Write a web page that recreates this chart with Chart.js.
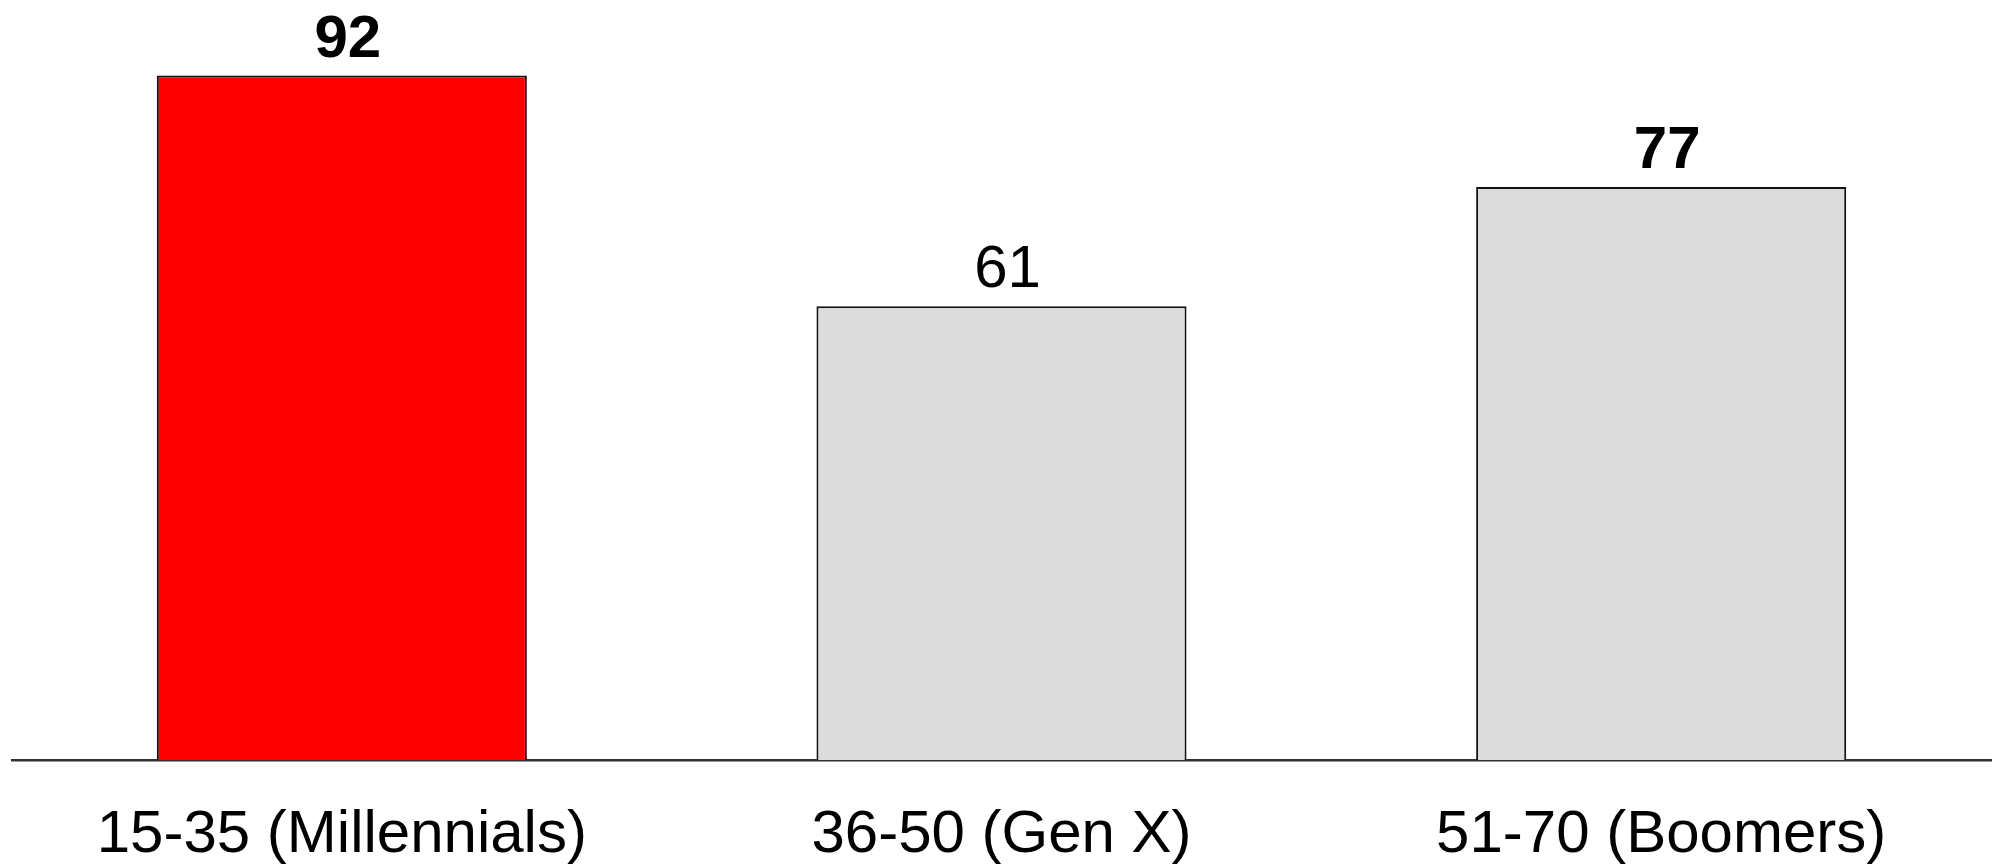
<!DOCTYPE html>
<html>
<head>
<meta charset="utf-8">
<script src="https://cdn.jsdelivr.net/npm/chart.js@4"></script>
<style>
  html, body { margin: 0; padding: 0; background: #fff; }
  #wrap { width: 1992px; height: 868px; }
</style>
</head>
<body>
<div id="wrap"><canvas id="myChart" width="1992" height="868"></canvas></div>
<script>
const categories = ['15-35 (Millennials)', '36-50 (Gen X)', '51-70 (Boomers)'];
const values = [92, 61, 77];

const barColors = ['#ff0000', '#dcdcdc', '#dcdcdc'];
const labelBold = [true, false, true];

// draws the number above each bar
const valueLabels = {
    id: 'valueLabels',
    afterDatasetsDraw(chart) {
        const ctx = chart.ctx;
        const meta = chart.getDatasetMeta(0);
        ctx.save();
        ctx.fillStyle = '#000';
        ctx.textAlign = 'center';
        ctx.textBaseline = 'alphabetic';
        meta.data.forEach(function (bar, i) {
            ctx.font = (labelBold[i] ? 'bold ' : '') + '60px "Liberation Sans", Arial, sans-serif';
            ctx.fillText(String(values[i]), bar.x + 6, bar.y - 19);
        });
        ctx.restore();
    }
};

const ctx = document.getElementById('myChart').getContext('2d');

const myChart = new Chart(ctx, {
    type: 'bar',
    data: {
        labels: categories,
        datasets: [{
            data: values,
            backgroundColor: barColors,
            borderColor: '#111',
            borderWidth: 2,
            borderSkipped: 'bottom',
            categoryPercentage: 1,
            barPercentage: 0.561
        }]
    },
    options: {
        responsive: false,
        animation: false,
        layout: {
            padding: { top: 16, left: 12, right: 1, bottom: 0 }
        },
        plugins: {
            legend: { display: false },
            tooltip: { enabled: false }
        },
        scales: {
            x: {
                grid: { display: false, drawTicks: false },
                border: { display: true, color: '#333', width: 2.5 },
                ticks: {
                    color: '#000',
                    padding: 40,
                    font: { family: '"Liberation Sans", Arial, sans-serif', size: 60, lineHeight: 1.17 }
                },
                afterFit(scale) {
                    scale.height = 108;
                }
            },
            y: {
                display: false,
                min: 0,
                max: 100
            }
        }
    },
    plugins: [valueLabels]
});
</script>
</body>
</html>
